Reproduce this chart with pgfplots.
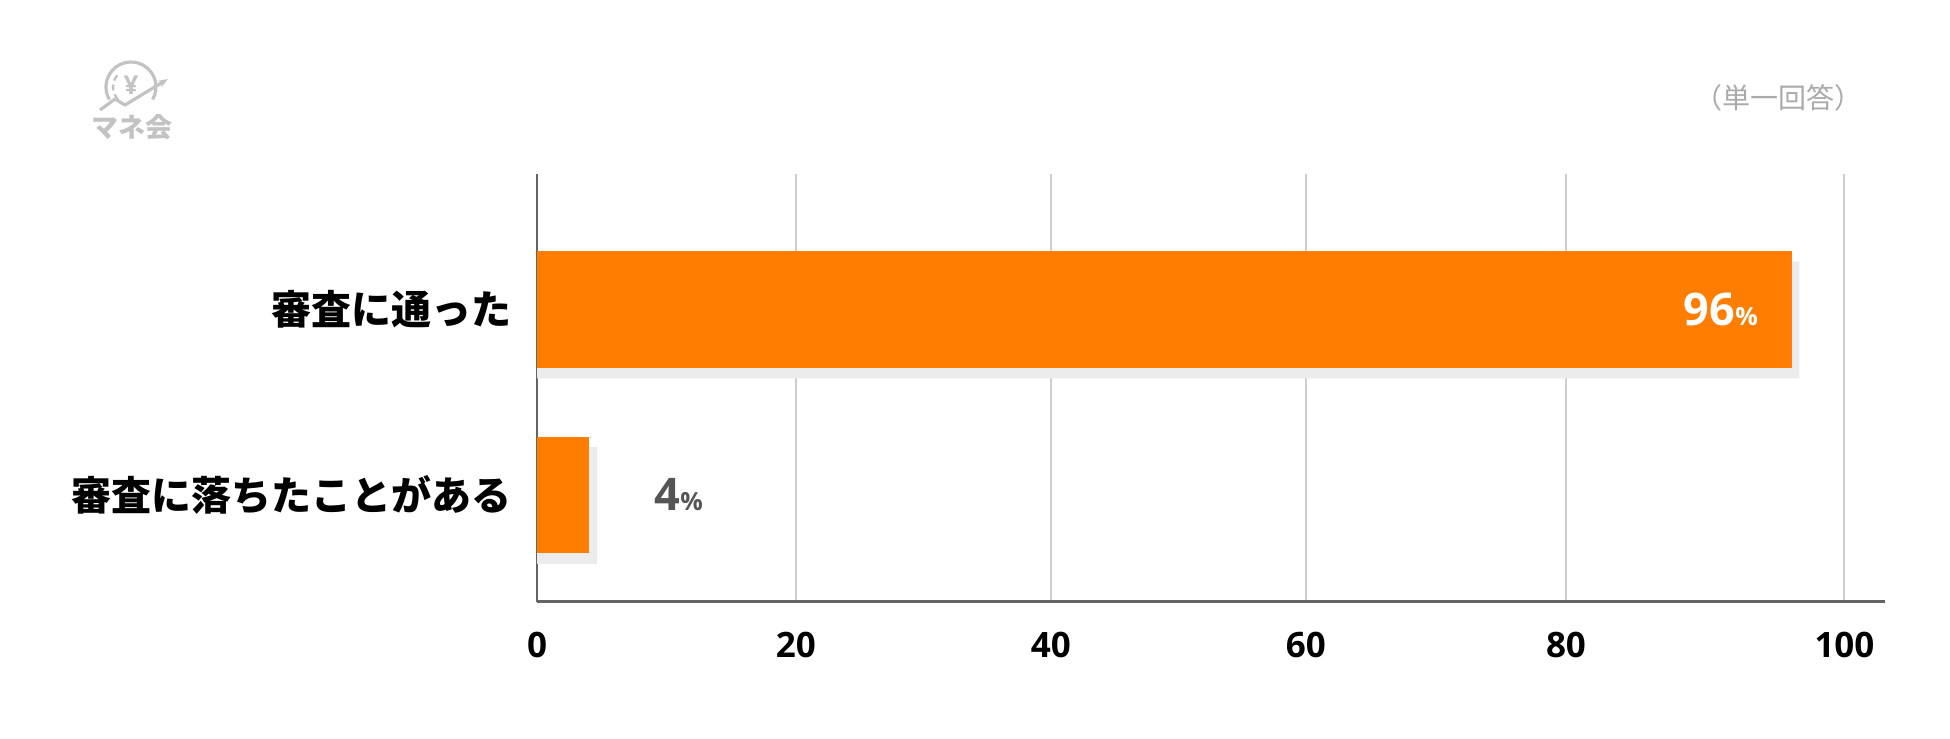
\documentclass[border=0pt]{standalone}
\usepackage{fontspec}
\usepackage{pgfplots}
\pgfplotsset{compat=1.18}
\usetikzlibrary{arrows.meta}
\setmainfont{Open Sans}
\newfontfamily\cjk{Noto Sans CJK JP}
\definecolor{barorange}{RGB}{255,125,0}
\definecolor{shadowgray}{RGB}{236,236,236}
\definecolor{gridgray}{RGB}{206,206,206}
\definecolor{axisgray}{RGB}{100,100,100}
\definecolor{labelgray}{RGB}{85,85,85}
\definecolor{notegray}{RGB}{170,170,170}
\definecolor{logogray}{RGB}{195,195,195}
\begin{document}
\begin{tikzpicture}
\useasboundingbox (0,0) rectangle (975pt,369.5pt);
% logo (px coordinates, y from bottom)
\begin{scope}[x=0.5pt,y=0.5pt]
  \draw[logogray, line width=1.6pt] (131,652) ++(-30:25) arc (-30:210:25);
  \draw[logogray, line width=1.2pt, dash pattern=on 3pt off 2pt] (131,652) ++(140:18) arc (140:230:18);
  \node[logogray, font=\bfseries\fontsize{13}{13}\selectfont, inner sep=0pt] at (131,654) {¥};
  \draw[logogray, line width=1.6pt, line join=round, -{Stealth[length=5pt]}] (100,629) -- (115,640) -- (125,634) -- (168,660);
  \node[logogray, font=\cjk\bfseries\fontsize{13.5}{13.5}\selectfont, inner sep=0pt] at (132,612) {マネ会};
  \node[notegray, font=\cjk\fontsize{14}{14}\selectfont, inner sep=0pt, anchor=east] at (1863,641) {（単一回答）};
\end{scope}
\begin{axis}[
  at={(268.5pt,68.5pt)}, anchor=south west,
  width=674pt, height=214pt, scale only axis,
  xmin=0, xmax=103.1, ymin=-0.577, ymax=1.730,
  axis lines=left,
  axis line style={-},
  x axis line style={line width=1.5pt, color=axisgray},
  y axis line style={line width=1pt, color=axisgray},
  xtick={0,19.8,39.3,58.8,78.7,100},
  xticklabels={0,20,40,60,80,100},
  ytick={0,1},
  yticklabels={審査に落ちたことがある,審査に通った},
  major tick length=0pt,
  xmajorgrids,
  grid style={line width=1pt, color=gridgray},
  /pgf/number format/assume math mode=true,
  xticklabel style={anchor=north, inner sep=0pt, yshift=-14.85pt, font=\bfseries\fontsize{17.5}{17.5}\selectfont},
  yticklabel style={anchor=east, inner sep=0pt, xshift=-12.5pt, font=\cjk\bfseries\fontsize{20}{20}\selectfont},
  point meta=x,
]
\addplot[xbar, fill=shadowgray, draw=none, bar width=0.629, bar shift=-0.057] coordinates {(96.55,1) (4.6,0)};
\addplot[xbar, fill=barorange, draw=none, bar width=0.629, bar shift=0,
  nodes near coords={\bfseries\fontsize{22.5}{22.5}\selectfont\pgfmathprintnumber{\pgfplotspointmeta}{\fontsize{12.5}{12.5}\selectfont\%}},
  nodes near coords style={anchor=east, inner sep=0pt, xshift=-17pt, text=white}] coordinates {(96,1)};
\addplot[xbar, fill=barorange, draw=none, bar width=0.629, bar shift=0,
  nodes near coords={\bfseries\fontsize{22.5}{22.5}\selectfont\pgfmathprintnumber{\pgfplotspointmeta}{\fontsize{12.5}{12.5}\selectfont\%}},
  nodes near coords style={anchor=west, inner sep=0pt, xshift=32.5pt, text=labelgray}] coordinates {(4,0)};
\end{axis}
\end{tikzpicture}
\end{document}
